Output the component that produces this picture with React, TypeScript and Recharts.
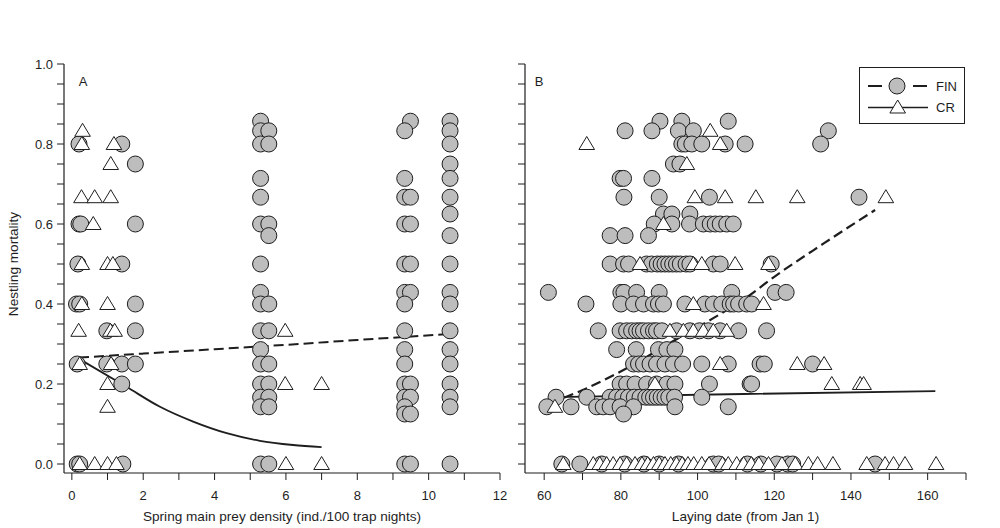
import React from "react";
import { ComposedChart, Scatter, Line, XAxis, YAxis, Legend } from "recharts";

type Pt = { x: number; y: number };

// ---- panel A: spring main prey density ----
const finA: [number, number][] = [
  [0.2, 0.8], [1.4, 0.8], [1.78, 0.75], [0.2, 0.6], [0.25, 0.6], [1.78, 0.6],
  [0.17, 0.5], [1.4, 0.5], [0.13, 0.4], [0.22, 0.4], [1.78, 0.4], [0.98, 0.333],
  [1.78, 0.333], [0.15, 0.25], [0.98, 0.25], [1.4, 0.25], [1.78, 0.25], [1.4, 0.2],
  [0.15, 0], [0.22, 0], [1.43, 0],
  [5.29, 0.857], [5.29, 0.833], [5.52, 0.833], [5.29, 0.8], [5.52, 0.8], [5.29, 0.714],
  [5.29, 0.667], [5.29, 0.6], [5.52, 0.6], [5.52, 0.571], [5.29, 0.5], [5.29, 0.429],
  [5.29, 0.4], [5.52, 0.4], [5.29, 0.333], [5.52, 0.333], [5.29, 0.286], [5.29, 0.25],
  [5.52, 0.25], [5.29, 0.2], [5.52, 0.2], [5.29, 0.167], [5.52, 0.167], [5.29, 0.143],
  [5.52, 0.143], [5.29, 0], [5.52, 0],
  [9.49, 0.857], [9.33, 0.833], [9.33, 0.714], [9.33, 0.667], [9.49, 0.667], [9.33, 0.6],
  [9.49, 0.6], [9.33, 0.5], [9.49, 0.5], [9.33, 0.429], [9.49, 0.429], [9.33, 0.4],
  [9.33, 0.333], [9.33, 0.286], [9.33, 0.25], [9.33, 0.2], [9.49, 0.2], [9.33, 0.167],
  [9.49, 0.167], [9.33, 0.143], [9.33, 0.125], [9.49, 0.125], [9.33, 0], [9.49, 0],
  [10.6, 0.857], [10.6, 0.833], [10.6, 0.8], [10.6, 0.75], [10.6, 0.714], [10.6, 0.667],
  [10.6, 0.625], [10.6, 0.571], [10.6, 0.5], [10.6, 0.429], [10.6, 0.4], [10.6, 0.333],
  [10.6, 0.286], [10.6, 0.25], [10.6, 0.2], [10.6, 0.167], [10.6, 0.143], [10.6, 0],
];

const crA: [number, number][] = [
  [0.3, 0.833], [0.28, 0.8], [1.18, 0.8], [1.09, 0.75], [0.27, 0.667], [0.64, 0.667],
  [1.09, 0.667], [0.6, 0.6], [0.28, 0.5], [1.0, 0.5], [1.15, 0.5], [0.28, 0.4],
  [1.0, 0.4], [0.19, 0.333], [1.08, 0.333], [1.2, 0.333], [0.22, 0.25], [1.1, 0.25],
  [1.0, 0.2], [1.0, 0.143], [0.22, 0], [0.64, 0], [1.0, 0], [1.25, 0],
  [5.98, 0.333], [5.98, 0.2], [7.0, 0.2], [6.0, 0], [7.0, 0],
];

const finFitA: [number, number][] = [
  [0.2, 0.266], [2, 0.276], [4, 0.287], [6, 0.298], [8, 0.31], [10.6, 0.325],
];
const crFitA: [number, number][] = [
  [0.18, 0.264], [1.53, 0.193], [2.47, 0.143], [3.4, 0.106], [4.34, 0.077],
  [5.27, 0.058], [6.2, 0.0475], [7, 0.042],
];

// ---- panel B: laying date, rows of [mortality, dates] ----
const finRowsB: [number, number[]][] = [
  [0.857, [90.2, 95.9, 108.0]],
  [0.833, [81.1, 88.1, 95.0, 98.9, 134.1]],
  [0.8, [95.9, 96.8, 98.5, 101.1, 107.2, 112.4, 132.1]],
  [0.75, [93.7, 95.4]],
  [0.714, [79.8, 80.7, 88.1]],
  [0.667, [80.8, 90.0, 103.1, 142.1]],
  [0.625, [91.1, 93.3, 98.0]],
  [0.6, [88.7, 93.3, 97.9, 101.5, 103.3, 104.6, 105.9, 107.6, 109.3]],
  [0.571, [77.2, 81.1, 87.2]],
  [0.5, [77.2, 80.7, 82.0, 86.7, 88, 89.5, 90.5, 91.5, 92.5, 93.5, 94.5, 95.5, 97, 98, 104.1, 105.9, 119.2]],
  [0.429, [61.1, 80.0, 80.8, 84.1, 90.0, 108.9, 120.2, 123.1]],
  [0.4, [70.9, 80.0, 83.3, 85.9, 88.5, 89.8, 91.1, 96.7, 101.9, 104.1, 106.3, 108.5, 109.4, 110.7, 112.8, 114.1]],
  [0.333, [74.1, 79.8, 81.5, 82.8, 84.1, 85, 85.9, 87.2, 88.5, 89.3, 90.7, 94.5, 98, 100.5, 102.8, 105.9, 110.7, 118.0]],
  [0.286, [78.9, 84.0, 89.8, 92.0, 94.1]],
  [0.25, [83.3, 84.6, 85.9, 87.6, 89.3, 91.5, 93.7, 96.1, 101.1, 108.0, 116.3, 117.4, 130.0]],
  [0.2, [79.8, 81.5, 83.7, 86.7, 89.3, 92.0, 94.1, 103.1, 113.7, 114.1]],
  [0.167, [63.1, 71.1, 77.2, 78.9, 80.5, 82, 83.5, 85, 86.5, 87.5, 88.5, 89.5, 90.5, 91.5, 92.5, 94, 101.1]],
  [0.143, [60.7, 67.0, 73.7, 75.4, 77.2, 79.8, 83.3, 94.1, 108.0]],
  [0.125, [80.7]],
  [0, [64.6, 69.3, 75, 81, 86, 90, 95, 104.1, 105.5, 113, 116.5, 120.7, 123.5, 124.8, 146.3]],
];

const crRowsB: [number, number[]][] = [
  [0.833, [103.3]],
  [0.8, [71.1, 105.9]],
  [0.75, [97.2]],
  [0.667, [99.3, 107.2, 115.2, 126.0, 149.1]],
  [0.6, [91.1]],
  [0.5, [85.0, 98.9, 101.1, 109.8, 118.5]],
  [0.4, [98.9, 117.2]],
  [0.333, [92.8, 96.3, 98.9, 101.5, 104.1, 107.6]],
  [0.25, [105.9, 126.0, 133.0]],
  [0.2, [88.9, 135.0, 142.4, 143.3]],
  [0.143, [62.8]],
  [0, [65.0, 72.8, 74.5, 76.3, 78, 79.8, 81.5, 83.7, 85.5, 87, 88.5, 90, 91.5, 93, 94.5, 96, 97.5, 99,
    101.1, 103, 106.5, 108, 110.2, 112, 114, 116, 118.5, 122, 125.5, 128.9, 131.3, 135.3, 144.1,
    148.9, 151.1, 154.1, 162.2]],
];

const finFitB: [number, number][] = [
  [61.5, 0.152], [71, 0.189], [83, 0.247], [92, 0.298], [104, 0.364], [113, 0.418],
  [120, 0.468], [133, 0.552], [146.3, 0.635],
];
const crFitB: [number, number][] = [[62.5, 0.167], [112, 0.175], [162, 0.182]];

// ---- axes ----
const yTicks = [0, 0.05, 0.1, 0.15, 0.2, 0.25, 0.3, 0.35, 0.4, 0.45, 0.5, 0.55, 0.6, 0.65, 0.7, 0.75, 0.8, 0.85, 0.9, 0.95, 1.0];
const yLabels = [0, 0.2, 0.4, 0.6, 0.8, 1.0];
const xTicksA = [0, 1, 2, 3, 4, 5, 6, 7, 8, 9, 10, 11, 12];
const xLabelsA = [0, 2, 4, 6, 8, 10, 12];
const xTicksB = [60, 70, 80, 90, 100, 110, 120, 130, 140, 150, 160, 170];
const xLabelsB = [60, 80, 100, 120, 140, 160];
const legendItems = ["FIN", "CR"];

const toPts = (arr: [number, number][]): Pt[] => arr.map(([x, y]) => ({ x, y }));
const fromRows = (rows: [number, number[]][]): Pt[] =>
  rows.flatMap(([y, xs]) => xs.map((x) => ({ x, y })));

const FONT = "'Liberation Sans', Arial, Helvetica, sans-serif";
const INK = "#1e1e1e";
const GREY = "#bdbdbd";
const TICK_FS = 13;
const TITLE_FS = 13.6;

const CircleDot = (p: any) => (
  <circle cx={p.cx} cy={p.cy} r={8} fill={GREY} stroke={INK} strokeWidth={1} />
);
const TriDot = (p: any) => {
  const { cx, cy } = p;
  return (
    <polygon
      points={`${cx},${cy - 7.5} ${cx + 7.8},${cy + 5.5} ${cx - 7.8},${cy + 5.5}`}
      fill="#fff"
      stroke={INK}
      strokeWidth={1}
    />
  );
};

const near = (v: number, list: number[]) => list.some((l) => Math.abs(l - v) < 1e-6);

const makeXTick = (labels: number[]) => (props: any) => {
  const v = props.payload.value;
  if (!near(v, labels)) return <g />;
  return (
    <text x={props.x} y={props.y} dy="0.68em" textAnchor="middle" fontSize={TICK_FS} fontFamily={FONT} fill={INK}>
      {v}
    </text>
  );
};

const YTickA = (props: any) => {
  const v = props.payload.value;
  if (!near(v, yLabels)) return <g />;
  return (
    <text x={props.x} y={props.y} dy="0.36em" textAnchor="end" fontSize={TICK_FS} fontFamily={FONT} fill={INK}>
      {v.toFixed(1)}
    </text>
  );
};

const axisTitle = (text: string) => (props: any) => {
  const vb = props.viewBox;
  return (
    <text x={vb.x + vb.width / 2} y={vb.y + 47.5} textAnchor="middle" fontSize={TITLE_FS} fontFamily={FONT} fill={INK}>
      {text}
    </text>
  );
};

const YTitle = () => (
  <text
    x={18}
    y={264}
    transform="rotate(-90 18 264)"
    textAnchor="middle"
    fontSize={TITLE_FS}
    fontFamily={FONT}
    fill={INK}
  >
    Nestling mortality
  </text>
);

const LegendBox = () => (
  <svg width={106} height={57} style={{ display: "block" }}>
    <rect x={0.5} y={0.5} width={105} height={56} fill="#fff" stroke={INK} strokeWidth={1} />
    <line x1={9} x2={23} y1={19} y2={19} stroke={INK} strokeWidth={2} />
    <line x1={54} x2={68} y1={19} y2={19} stroke={INK} strokeWidth={2} />
    <circle cx={38} cy={19} r={8} fill={GREY} stroke={INK} strokeWidth={1} />
    <text x={77} y={23.5} fontSize={TICK_FS} fontFamily={FONT} fill={INK}>{legendItems[0]}</text>
    <line x1={9} x2={69} y1={40.5} y2={40.5} stroke={INK} strokeWidth={1.6} />
    <polygon points="38.7,33 46.5,46 30.9,46" fill="#fff" stroke={INK} strokeWidth={1} />
    <text x={77} y={45} fontSize={TICK_FS} fontFamily={FONT} fill={INK}>{legendItems[1]}</text>
  </svg>
);

const axisProps = {
  axisLine: { stroke: INK, strokeWidth: 1.2 },
  tickLine: { stroke: INK, strokeWidth: 1 },
  tickSize: 7,
  interval: 0 as const,
  allowDataOverflow: true,
};

const H = 528;

export default function App() {
  return (
    <div style={{ position: "absolute", left: 0, top: 0, width: 1000, height: H, background: "#fff", fontFamily: FONT }}>
      <div style={{ position: "absolute", left: 0, top: 0 }}>
        <ComposedChart width={510} height={H} margin={{ top: 64, right: 10, bottom: 0, left: 0 }}>
          <XAxis
            type="number"
            dataKey="x"
            domain={[-0.22, 12]}
            ticks={xTicksA}
            tick={makeXTick(xLabelsA)}
            tickMargin={11}
            height={55}
            label={{ content: axisTitle("Spring main prey density (ind./100 trap nights)") }}
            {...axisProps}
          />
          <YAxis
            type="number"
            dataKey="y"
            domain={[-0.0225, 1]}
            ticks={yTicks}
            tick={YTickA}
            tickMargin={4}
            width={64}
            {...axisProps}
          />
          <Scatter name="FIN" data={toPts(finA)} shape={CircleDot} isAnimationActive={false} />
          <Scatter name="CR" data={toPts(crA)} shape={TriDot} isAnimationActive={false} />
          <Line data={toPts(finFitA)} dataKey="y" type="monotone" stroke={INK} strokeWidth={2} strokeDasharray="10 5" dot={false} activeDot={false} isAnimationActive={false} />
          <Line data={toPts(crFitA)} dataKey="y" type="monotone" stroke={INK} strokeWidth={1.8} dot={false} activeDot={false} isAnimationActive={false} />
          <text x={83} y={86} textAnchor="middle" fontSize={TICK_FS} fontFamily={FONT} fill={INK}>A</text>
          <YTitle />
        </ComposedChart>
      </div>
      <div style={{ position: "absolute", left: 510, top: 0 }}>
        <ComposedChart width={490} height={H} margin={{ top: 64, right: 34, bottom: 0, left: 0 }}>
          <XAxis
            type="number"
            dataKey="x"
            domain={[55, 170]}
            ticks={xTicksB}
            tick={makeXTick(xLabelsB)}
            tickMargin={11}
            height={55}
            label={{ content: axisTitle("Laying date (from Jan 1)") }}
            {...axisProps}
          />
          <YAxis
            type="number"
            dataKey="y"
            domain={[-0.0225, 1]}
            ticks={yTicks}
            tick={() => <g />}
            width={15}
            {...axisProps}
          />
          <Scatter name="FIN" data={fromRows(finRowsB)} shape={CircleDot} isAnimationActive={false} />
          <Scatter name="CR" data={fromRows(crRowsB)} shape={TriDot} isAnimationActive={false} />
          <Line data={toPts(finFitB)} dataKey="y" type="monotone" stroke={INK} strokeWidth={2.2} strokeDasharray="10 5" dot={false} activeDot={false} isAnimationActive={false} />
          <Line data={toPts(crFitB)} dataKey="y" type="monotone" stroke={INK} strokeWidth={1.8} dot={false} activeDot={false} isAnimationActive={false} />
          <text x={29} y={86} textAnchor="middle" fontSize={TICK_FS} fontFamily={FONT} fill={INK}>B</text>
          <Legend
            layout="vertical"
            align="center"
            verticalAlign="middle"
            content={LegendBox}
            wrapperStyle={{ left: 349, top: 67, width: 106, height: 57 }}
          />
        </ComposedChart>
      </div>
    </div>
  );
}
